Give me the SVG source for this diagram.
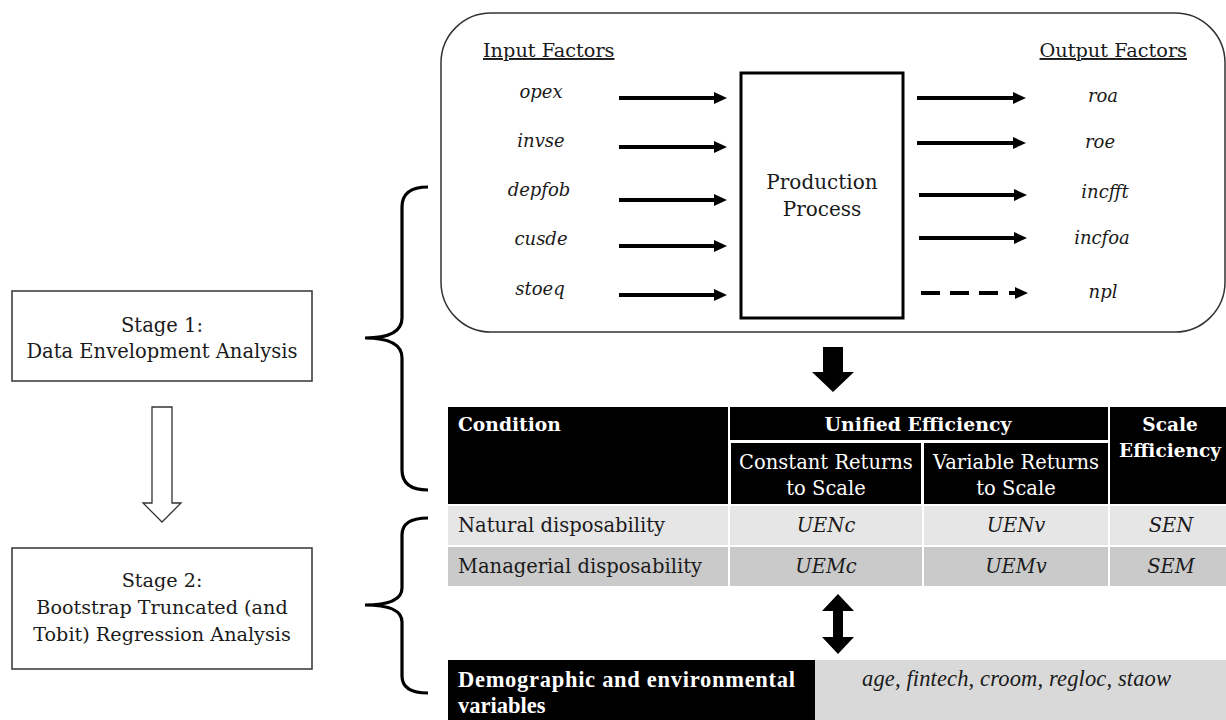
<svg xmlns="http://www.w3.org/2000/svg" width="1226" height="720" viewBox="0 0 1226 720">
<style>
.t{font-family:"DejaVu Serif","Liberation Serif",serif;fill:#1a1a1a}
.w{font-family:"DejaVu Serif","Liberation Serif",serif;fill:#fff;font-weight:bold}
.i{font-style:italic}
.arr{stroke:#000;stroke-width:4;fill:none}
.box{fill:#fff;stroke:#333;stroke-width:1.5}
.brace{fill:none;stroke:#000;stroke-width:3.2}
</style>
<defs>
<marker id="ah" markerUnits="userSpaceOnUse" markerWidth="13" markerHeight="13" viewBox="0 0 13 13" refX="1" refY="6.5" orient="auto">
<path d="M0,0.5 L13,6.5 L0,12.5 z" fill="#000"/>
</marker>
</defs>
<rect width="1226" height="720" fill="#fff"/>

<g id="stage1">
<rect class="box" x="12" y="291" width="300" height="90"/>
<text class="t" x="162" y="332" font-size="19.5" text-anchor="middle">Stage 1:</text>
<text class="t" x="162" y="358" font-size="19.5" text-anchor="middle">Data Envelopment Analysis</text>
</g>
<g id="stage2">
<rect class="box" x="12" y="548" width="300" height="121"/>
<text class="t" x="162" y="587" font-size="19.2" text-anchor="middle">Stage 2:</text>
<text class="t" x="162" y="614" font-size="19.2" text-anchor="middle">Bootstrap Truncated (and</text>
<text class="t" x="162" y="641" font-size="19.2" text-anchor="middle">Tobit) Regression Analysis</text>
</g>

<g id="dea-panel">
<rect x="441" y="13" width="784" height="319" rx="50" ry="50" fill="#fff" stroke="#333" stroke-width="1.5"/>
<text class="t" x="483" y="57" font-size="19.3" text-decoration="underline">Input Factors</text>
<text class="t" x="1187" y="57" font-size="19.3" text-anchor="end" text-decoration="underline">Output Factors</text>
<g class="t i" font-size="18" text-anchor="middle">
<text x="541" y="98">opex</text>
<text x="541" y="147">invse</text>
<text x="539" y="196">depfob</text>
<text x="541" y="245">cusde</text>
<text x="540" y="295">stoeq</text>
<text x="1103" y="102">roa</text>
<text x="1100" y="148">roe</text>
<text x="1105" y="198">incfft</text>
<text x="1102" y="244">incfoa</text>
<text x="1103" y="298">npl</text>
</g>
</g>
<g id="production-process">
<rect x="741" y="73" width="162" height="245" fill="#fff" stroke="#000" stroke-width="3"/>
<text class="t" x="822" y="189" font-size="20" text-anchor="middle">Production</text>
<text class="t" x="822" y="216" font-size="20" text-anchor="middle">Process</text>
</g>

<g id="table">
<rect x="448" y="407" width="280" height="97" fill="#000"/>
<rect x="730" y="407" width="378" height="33" fill="#000"/>
<rect x="731" y="443" width="190" height="61" fill="#000"/>
<rect x="924" y="443" width="184" height="61" fill="#000"/>
<rect x="1110" y="407" width="116" height="97" fill="#000"/>
<text class="w" x="458" y="431" font-size="18.7">Condition</text>
<text class="w" x="918" y="431" font-size="18.9" text-anchor="middle">Unified Efficiency</text>
<text class="w" x="1170" y="431" font-size="18.5" text-anchor="middle">Scale</text>
<text class="w" x="1170" y="457" font-size="18.5" text-anchor="middle">Efficiency</text>
<g font-family="DejaVu Serif,Liberation Serif,serif" font-size="19.5" fill="#fff" text-anchor="middle">
<text x="826" y="469">Constant Returns</text>
<text x="826" y="495">to Scale</text>
<text x="1016" y="469">Variable Returns</text>
<text x="1016" y="495">to Scale</text>
</g>
<rect x="448" y="506" width="280" height="39" fill="#e6e6e6"/>
<rect x="730" y="506" width="192" height="39" fill="#e6e6e6"/>
<rect x="924" y="506" width="184" height="39" fill="#e6e6e6"/>
<rect x="1110" y="506" width="116" height="39" fill="#e6e6e6"/>
<rect x="448" y="547" width="280" height="39" fill="#cacaca"/>
<rect x="730" y="547" width="192" height="39" fill="#cacaca"/>
<rect x="924" y="547" width="184" height="39" fill="#cacaca"/>
<rect x="1110" y="547" width="116" height="39" fill="#cacaca"/>
<g class="t" font-size="19.5">
<text x="458" y="532">Natural disposability</text>
<text x="458" y="573">Managerial disposability</text>
</g>
<g class="t i" font-size="19.5" text-anchor="middle">
<text x="826" y="532">UENc</text>
<text x="1016" y="532">UENv</text>
<text x="1171" y="532">SEN</text>
<text x="826" y="573">UEMc</text>
<text x="1016" y="573">UEMv</text>
<text x="1171" y="573">SEM</text>
</g>
</g>

<g id="demographic">
<rect x="448" y="660" width="367" height="60" fill="#000"/>
<rect x="815" y="660" width="411" height="60" fill="#d9d9d9"/>
<text x="458" y="687" font-family="Liberation Serif,serif" font-weight="bold" font-size="22.5" fill="#fff" textLength="337" lengthAdjust="spacing">Demographic and environmental</text>
<text x="458" y="713" font-family="Liberation Serif,serif" font-weight="bold" font-size="22.5" fill="#fff">variables</text>
<text x="862" y="686" font-family="Liberation Serif,serif" font-style="italic" font-size="22.5" fill="#1a1a1a" textLength="309" lengthAdjust="spacing">age, fintech, croom, regloc, staow</text>
</g>

<g id="connectors">
<line class="arr" x1="619" y1="98" x2="715" y2="98" marker-end="url(#ah)"/>
<line class="arr" x1="619" y1="147" x2="715" y2="147" marker-end="url(#ah)"/>
<line class="arr" x1="619" y1="200" x2="715" y2="200" marker-end="url(#ah)"/>
<line class="arr" x1="619" y1="246" x2="715" y2="246" marker-end="url(#ah)"/>
<line class="arr" x1="619" y1="295" x2="715" y2="295" marker-end="url(#ah)"/>
<line class="arr" x1="917" y1="98" x2="1014" y2="98" marker-end="url(#ah)"/>
<line class="arr" x1="917" y1="143" x2="1014" y2="143" marker-end="url(#ah)"/>
<line class="arr" x1="919" y1="195" x2="1015" y2="195" marker-end="url(#ah)"/>
<line class="arr" x1="919" y1="238" x2="1015" y2="238" marker-end="url(#ah)"/>
<line class="arr" x1="921" y1="293" x2="998" y2="293" stroke-dasharray="19 10"/>
<line class="arr" x1="1009" y1="293" x2="1016" y2="293" marker-end="url(#ah)"/>
<polygon points="823,347 843,347 843,372 854,372 833,392 812,372 823,372" fill="#000"/>
<polygon points="838,594 854,611 843,611 843,637 854,637 838,654 822,637 833,637 833,611 822,611" fill="#000"/>
<polygon points="152,407 172,407 172,503 181,503 162,522 143,503 152,503" fill="#fff" stroke="#333" stroke-width="1.3"/>
<path class="brace" d="M428,187 Q402,187 402,207 L402,318 Q402,338 365,338 Q402,338 402,358 L402,470 Q402,490 428,490"/>
<path class="brace" d="M428,518 Q402,518 402,535 L402,588 Q402,605 365,605 Q402,605 402,622 L402,676 Q402,693 428,693"/>
</g>
</svg>
